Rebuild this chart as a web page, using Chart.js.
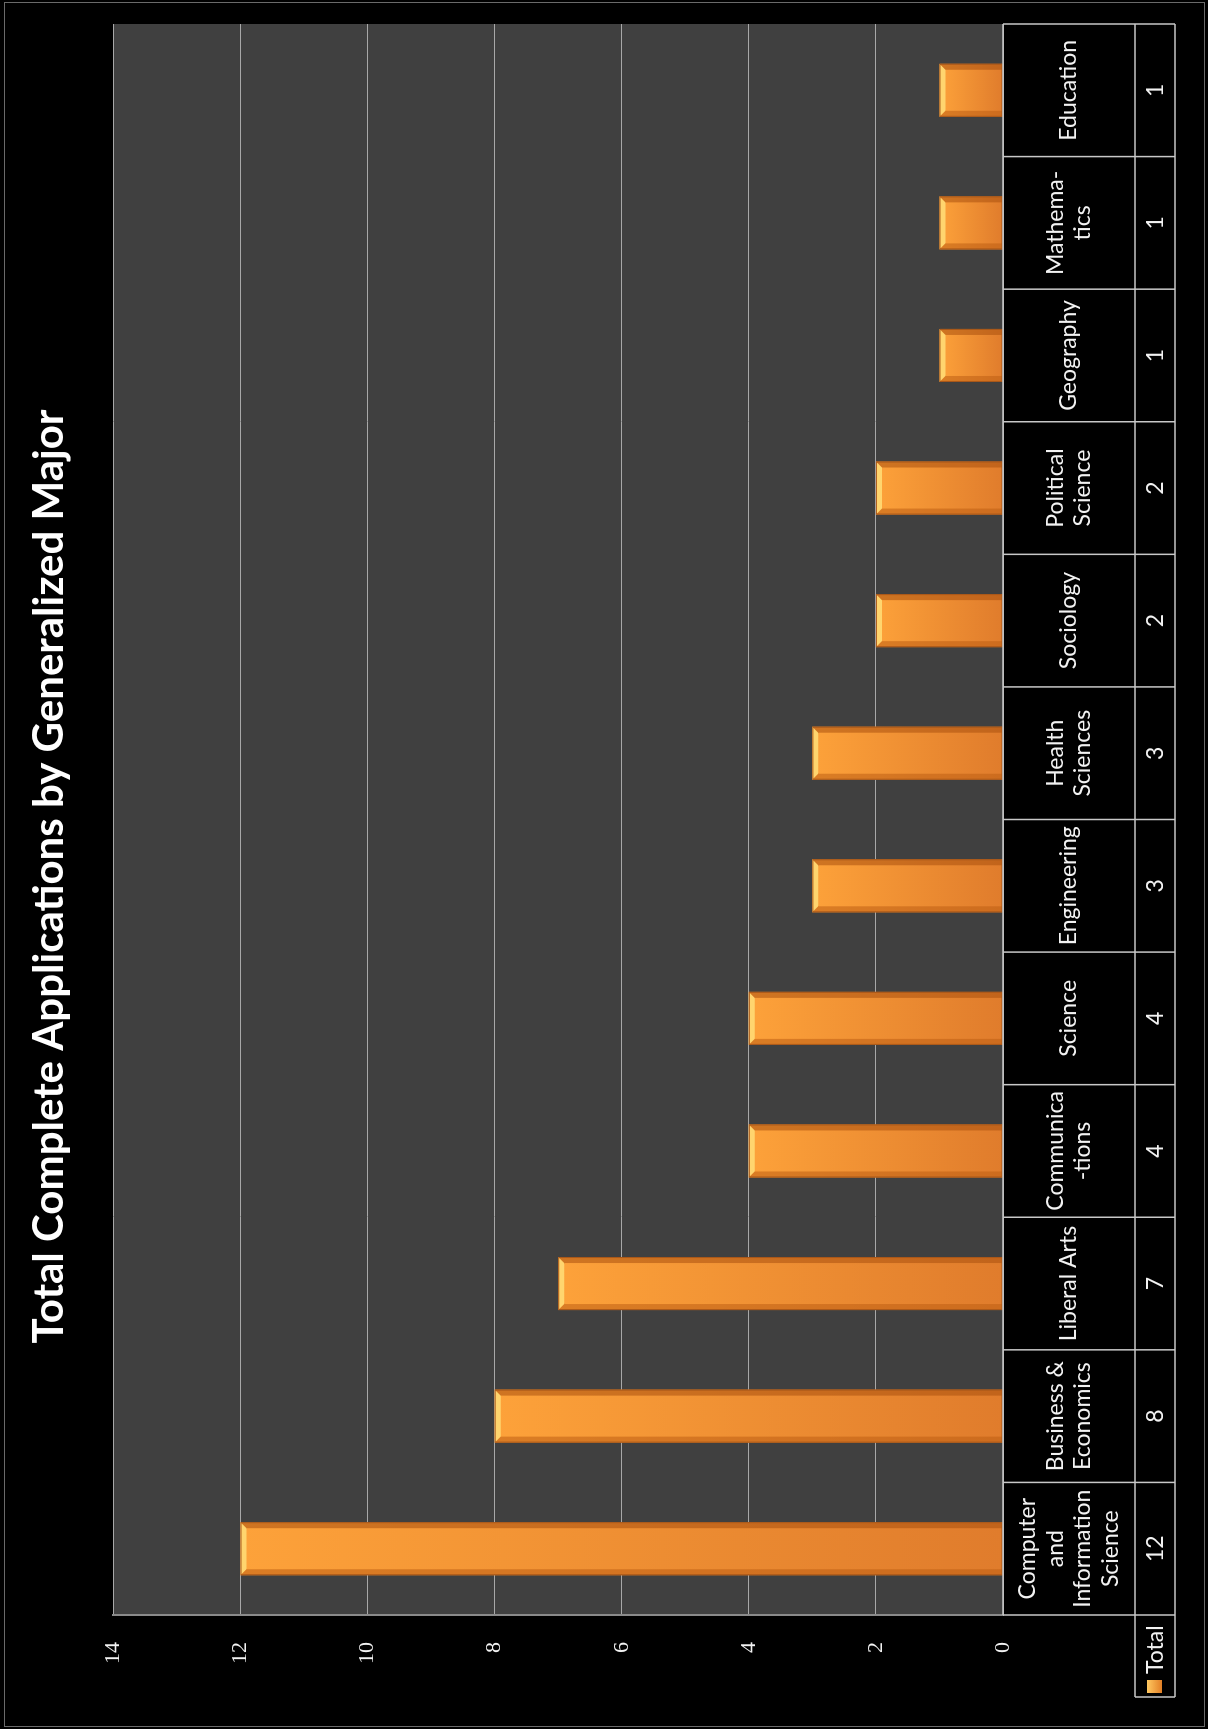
<!DOCTYPE html>
<html>
<head>
<meta charset="utf-8">
<script src="https://cdn.jsdelivr.net/npm/chart.js@4.4.1/dist/chart.umd.min.js"></script>
<style>
    html, body { margin: 0; padding: 0; background: #000; overflow: hidden; }
    body { width: 1208px; height: 1729px; position: relative; }
    /* the chart is drawn lying on its side, like the original slide */
    #wrap {
        position: absolute; left: 0; top: 0;
        width: 1729px; height: 1208px;
        transform-origin: 0 0;
        transform: translate(0, 1729px) rotate(-90deg);
    }
</style>
</head>
<body>
<div id="wrap">
    <canvas id="majorChart" width="1729" height="1208"></canvas>
</div>
<script>
const categories = [
    ['Computer', 'and', 'Information', 'Science'],
    ['Business &', 'Economics'],
    ['Liberal Arts'],
    ['Communica', '-tions'],
    ['Science'],
    ['Engineering'],
    ['Health', 'Sciences'],
    ['Sociology'],
    ['Political', 'Science'],
    ['Geography'],
    ['Mathema-', 'tics'],
    ['Education']
];
const totals = [12, 8, 7, 4, 4, 3, 3, 2, 2, 1, 1, 1];
const seriesName = 'Total';
const titleText = 'Total Complete Applications by Generalized Major';
const yMax = 14;
const yStep = 2;

const FONT = 'Lato, "Open Sans", sans-serif';

// dark plot background + outer frame
const backdrop = {
    id: 'backdrop',
    beforeDraw(chart) {
        const ctx = chart.ctx;
        const a = chart.chartArea;
        ctx.save();
        ctx.fillStyle = '#000';
        ctx.fillRect(0, 0, chart.width, chart.height);
        ctx.fillStyle = '#404040';
        ctx.fillRect(a.left, a.top, a.right - a.left, a.bottom - a.top);
        ctx.strokeStyle = '#6a6a6a';
        ctx.lineWidth = 1;
        ctx.strokeRect(2.5, 4.5, chart.width - 5, chart.height - 8);
        ctx.restore();
    }
};

// bevel look on the bars (light cap at the value end, darker sides)
const bevel = {
    id: 'bevel',
    afterDatasetsDraw(chart) {
        const ctx = chart.ctx;
        const meta = chart.getDatasetMeta(0);
        ctx.save();
        meta.data.forEach(bar => {
            const w = bar.width;
            const l = bar.x - w / 2, r = bar.x + w / 2;
            const t = bar.y, b = bar.base;
            const e = 6;
            // cap
            ctx.fillStyle = 'rgba(255, 222, 120, 0.85)';
            ctx.beginPath();
            ctx.moveTo(l, t); ctx.lineTo(r, t); ctx.lineTo(r - e, t + e); ctx.lineTo(l + e, t + e);
            ctx.closePath(); ctx.fill();
            // left side
            ctx.fillStyle = 'rgba(190, 95, 20, 0.55)';
            ctx.beginPath();
            ctx.moveTo(l, t); ctx.lineTo(l + e, t + e); ctx.lineTo(l + e, b); ctx.lineTo(l, b);
            ctx.closePath(); ctx.fill();
            // right side
            ctx.fillStyle = 'rgba(170, 80, 15, 0.55)';
            ctx.beginPath();
            ctx.moveTo(r, t); ctx.lineTo(r - e, t + e); ctx.lineTo(r - e, b); ctx.lineTo(r, b);
            ctx.closePath(); ctx.fill();
            ctx.strokeStyle = '#a9581a';
            ctx.lineWidth = 1;
            ctx.strokeRect(l + 0.5, t + 0.5, w - 1, b - t - 1);
        });
        ctx.restore();
    }
};

// data table under the plot (category row, value row, legend cell)
const dataTable = {
    id: 'dataTable',
    afterDraw(chart) {
        const ctx = chart.ctx;
        const a = chart.chartArea;
        const x = chart.scales.x;
        const n = categories.length;
        const cw = (a.right - a.left) / n;
        const top = a.bottom;
        const mid = top + 132;
        const bot = mid + 40;
        const legLeft = 32;

        ctx.save();
        ctx.strokeStyle = '#c8c8c8';
        ctx.lineWidth = 1.5;
        ctx.beginPath();
        ctx.moveTo(a.left, top); ctx.lineTo(a.right, top);
        ctx.moveTo(legLeft, mid); ctx.lineTo(a.right, mid);
        ctx.moveTo(legLeft, bot); ctx.lineTo(a.right, bot);
        ctx.moveTo(legLeft, mid); ctx.lineTo(legLeft, bot);
        for (let i = 0; i <= n; i++) {
            const px = a.left + i * cw;
            ctx.moveTo(px, top); ctx.lineTo(px, bot);
        }
        ctx.stroke();

        ctx.fillStyle = '#f2f2f2';
        ctx.textAlign = 'center';
        ctx.textBaseline = 'middle';
        ctx.font = '23px ' + FONT;
        const lh = 27.5;
        categories.forEach((lines, i) => {
            const cx = x.getPixelForValue(i);
            const cy = (top + mid) / 2;
            lines.forEach((s, k) => {
                ctx.fillText(s, cx, cy + (k - (lines.length - 1) / 2) * lh);
            });
            ctx.fillText(String(totals[i]), cx, (mid + bot) / 2 + 1);
        });

        // legend key
        const g = ctx.createLinearGradient(0, mid + 12, 0, mid + 28);
        g.addColorStop(0, '#ffc860');
        g.addColorStop(1, '#e07a22');
        ctx.fillStyle = g;
        ctx.fillRect(36, mid + 12, 13, 15);
        ctx.fillStyle = '#f2f2f2';
        ctx.textAlign = 'left';
        ctx.fillText(seriesName, 55, (mid + bot) / 2 + 1);
        ctx.restore();
    }
};

const ctx = document.getElementById('majorChart').getContext('2d');
const majorChart = new Chart(ctx, {
    type: 'bar',
    data: {
        labels: categories,
        datasets: [{
            label: seriesName,
            data: totals,
            backgroundColor: function(c) {
                const y = c.chart.scales.y;
                if (!y || c.raw === undefined) return '#f7952f';
                const t = y.getPixelForValue(c.raw);
                const b = y.getPixelForValue(0);
                if (!isFinite(t) || !isFinite(b)) return '#f7952f';
                const g = c.chart.ctx.createLinearGradient(0, t, 0, b);
                g.addColorStop(0, '#fda23a');
                g.addColorStop(1, '#e07c2c');
                return g;
            },
            borderWidth: 0,
            categoryPercentage: 1,
            barPercentage: 0.4
        }]
    },
    options: {
        responsive: false,
        animation: false,
        layout: { padding: { left: 0, right: 24, top: 0, bottom: 205 } },
        plugins: {
            legend: { display: false },
            tooltip: { enabled: false },
            title: {
                display: true,
                text: titleText,
                color: '#ffffff',
                font: { family: FONT, size: 42, weight: 'bold' },
                padding: { top: 24, bottom: 39 }
            }
        },
        scales: {
            x: { display: false },
            y: {
                min: 0,
                max: yMax,
                ticks: {
                    stepSize: yStep,
                    color: '#f2f2f2',
                    font: { family: '"Liberation Serif", "DejaVu Serif", serif', size: 22 },
                    padding: 27
                },
                grid: { color: '#a8a8a8', lineWidth: 1, drawTicks: false },
                border: { display: true, color: '#8a8a8a', width: 2 },
                afterFit: function(scale) { scale.width = 114; }
            }
        }
    },
    plugins: [backdrop, bevel, dataTable]
});
</script>
</body>
</html>
